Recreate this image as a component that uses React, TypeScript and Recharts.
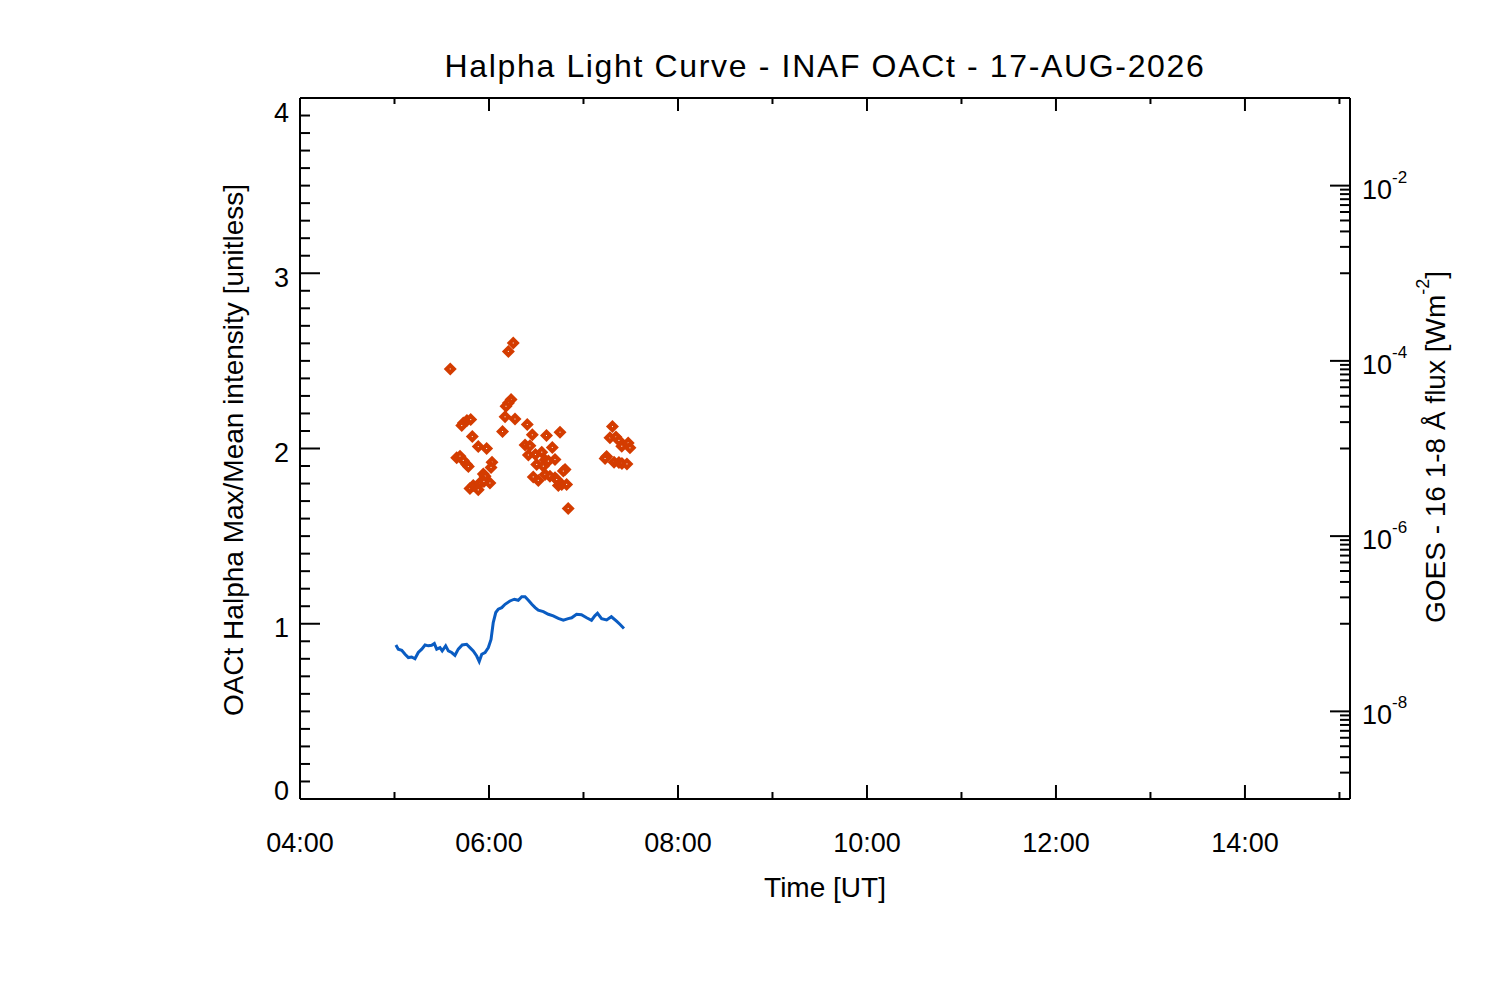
import React from 'react';
import { ComposedChart, Line, Scatter, XAxis, YAxis } from 'recharts';

const FONT = '"Liberation Sans", Arial, Helvetica, sans-serif';

// OACt Halpha max/mean curve, time in minutes after 00:00 UT
const curveTimes = [
  300.9, 302.4, 304.6, 306.7, 308.8, 310.9, 313.0, 315.1, 317.3, 319.4,
  321.5, 323.6, 325.3, 326.8, 328.9, 330.3, 332.5, 334.2, 336.3, 338.4,
  340.5, 343.0, 345.8, 347.9, 350.0, 352.2, 353.8, 355.4, 357.5, 359.6,
  361.3, 362.7, 364.3, 365.9, 368.1, 370.2, 373.3, 376.1, 378.6, 380.8,
  382.9, 385.0, 387.2, 389.3, 391.3, 394.5, 397.7, 400.8, 404.0, 407.2,
  410.3, 412.5, 415.6, 418.7, 422.0, 425.1, 427.2, 428.9, 431.5, 434.7,
  437.7, 441.0, 443.1, 445.7,
];
const curveValues = [
  0.879, 0.855, 0.849, 0.826, 0.807, 0.81, 0.8, 0.836, 0.855, 0.879,
  0.874, 0.877, 0.887, 0.855, 0.864, 0.845, 0.874, 0.845, 0.836, 0.82,
  0.855, 0.879, 0.883, 0.864, 0.845, 0.816, 0.785, 0.826, 0.836, 0.864,
  0.91, 1.007, 1.064, 1.083, 1.092, 1.111, 1.13, 1.14, 1.134, 1.154,
  1.154, 1.134, 1.111, 1.092, 1.077, 1.069, 1.054, 1.045, 1.031, 1.02,
  1.029, 1.034, 1.054, 1.052, 1.034, 1.02, 1.045, 1.06, 1.029, 1.022,
  1.04, 1.015, 0.997, 0.973,
];

// diamond points
const pointTimes = [
  335.4, 375.4, 372.3, 374.0, 372.3, 370.8, 370.2, 376.5, 368.6, 343.7,
  346.0, 348.4, 342.7, 349.4, 353.2, 358.5, 339.5, 341.6, 343.7, 345.8,
  346.9, 361.9, 361.3, 356.4, 357.5, 347.9, 350.0, 352.2, 354.3, 356.8,
  360.6, 353.2, 384.3, 387.5, 396.5, 405.1, 382.9, 386.0, 400.2, 385.0,
  389.5, 393.5, 401.9, 395.6, 390.3, 394.5, 397.7, 388.1, 391.3, 395.6,
  398.7, 401.9, 408.3, 407.2, 404.0, 406.2, 409.3, 403.0, 410.3, 438.4,
  436.8, 440.6, 442.5, 444.3, 448.4, 449.5, 434.7, 433.7, 439.4, 442.5,
  444.4, 447.6,
];
const pointValues = [
  2.454, 2.602, 2.554, 2.279, 2.26, 2.241, 2.181, 2.168, 2.097, 2.146,
  2.16, 2.165, 2.131, 2.068, 2.011, 2.0, 1.947, 1.956, 1.932, 1.909,
  1.897, 1.922, 1.892, 1.855, 1.842, 1.772, 1.789, 1.781, 1.805, 1.812,
  1.803, 1.764, 2.137, 2.078, 2.074, 2.093, 2.02, 2.015, 2.006, 1.963,
  1.966, 1.979, 1.937, 1.934, 1.909, 1.899, 1.928, 1.838, 1.818, 1.852,
  1.842, 1.833, 1.88, 1.871, 1.789, 1.795, 1.795, 1.823, 1.658, 2.125,
  2.061, 2.066, 2.046, 2.013, 2.032, 2.004, 1.954, 1.943, 1.922, 1.92,
  1.915, 1.912,
];

const hourTicks = [240, 300, 360, 420, 480, 540, 600, 660, 720, 780, 840, 900];
const leftTicks = Array.from({ length: 41 }, (_, i) => i / 10);
const goesMajor = [1e-8, 1e-6, 1e-4, 1e-2];
const goesTicks = [
  ...goesMajor.flatMap((m) => [1, 2, 3, 4, 5, 6, 7, 8, 9].map((k) => (k * m) / 10)),
  ...goesMajor,
  1e-1,
];

const curveData = curveTimes.map((t, i) => ({ t, v: curveValues[i] }));
const pointData = pointTimes.map((t, i) => ({ t, v: pointValues[i] }));

const TOP = 98;
const BOTTOM = 799;

const fmtHour = (m: number) => `${String(Math.round(m / 60)).padStart(2, '0')}:00`;

const BottomTick = (props: any) => {
  const { x, y, payload } = props;
  const h = Math.round(payload.value / 60);
  const major = h % 2 === 0;
  return (
    <g>
      <line x1={x} x2={x} y1={y} y2={y - (major ? 14 : 7)} stroke="#000" strokeWidth={2} />
      {major && h <= 14 && (
        <text x={x} y={y + 53} textAnchor="middle" fontSize={27} fontFamily={FONT} fill="#000">
          {fmtHour(payload.value)}
        </text>
      )}
    </g>
  );
};

const TopTick = (props: any) => {
  const { x, y, payload } = props;
  const h = Math.round(payload.value / 60);
  const major = h % 2 === 0;
  return <line x1={x} x2={x} y1={y} y2={y + (major ? 13 : 6)} stroke="#000" strokeWidth={2} />;
};

const LeftTick = (props: any) => {
  const { x, y, payload } = props;
  const v = payload.value;
  const major = Math.abs(v - Math.round(v)) < 1e-6;
  const ty = Math.min(Math.max(y + 13.5, TOP + 24), BOTTOM + 1);
  return (
    <g>
      <line x1={x} x2={x + (major ? 20 : 10)} y1={y} y2={y} stroke="#000" strokeWidth={2} />
      {major && (
        <text x={x - 11} y={ty} textAnchor="end" fontSize={27} fontFamily={FONT} fill="#000">
          {Math.round(v)}
        </text>
      )}
    </g>
  );
};

const RightTick = (props: any) => {
  const { x, y, payload } = props;
  const v = payload.value;
  const major = goesMajor.some((m) => Math.abs(v / m - 1) < 1e-6);
  const exp = Math.round(Math.log10(v));
  return (
    <g>
      <line x1={x} x2={x - (major ? 20 : 10)} y1={y} y2={y} stroke="#000" strokeWidth={2} />
      {major && (
        <text x={x + 12} y={y + 13} fontSize={27} fontFamily={FONT} fill="#000">
          10
          <tspan fontSize={17} dy={-16}>
            {exp}
          </tspan>
        </text>
      )}
    </g>
  );
};

const Diamond = (props: any) => {
  const { cx, cy } = props;
  if (cx == null || cy == null) return null;
  const r = 6.5;
  return (
    <g>
      <path d={`M${cx},${cy - r}L${cx + r},${cy}L${cx},${cy + r}L${cx - r},${cy}Z`} fill="#d43c00" />
      <rect x={cx - 0.5} y={cy - 0.5} width={1} height={1} fill="#fff" />
    </g>
  );
};

export default function App() {
  return (
    <div style={{ position: 'absolute', left: 0, top: 0, width: 1500, height: 1000, background: '#fff' }}>
      <ComposedChart
        width={1500}
        height={1000}
        margin={{ top: TOP - 1, right: 149, bottom: 1000 - BOTTOM - 1, left: 299 }}
        style={{ fontFamily: FONT }}
      >
        <XAxis
          xAxisId="bottom"
          dataKey="t"
          type="number"
          domain={[240, 906.7]}
          allowDataOverflow
          ticks={hourTicks}
          interval={0}
          tick={BottomTick}
          tickLine={false}
          tickSize={0}
          tickMargin={0}
          height={1}
          axisLine={{ stroke: '#000', strokeWidth: 2 }}
        />
        <XAxis
          xAxisId="top"
          orientation="top"
          dataKey="t"
          type="number"
          domain={[240, 906.7]}
          allowDataOverflow
          ticks={hourTicks}
          interval={0}
          tick={TopTick}
          tickLine={false}
          tickSize={0}
          tickMargin={0}
          height={1}
          axisLine={{ stroke: '#000', strokeWidth: 2 }}
        />
        <YAxis
          yAxisId="left"
          dataKey="v"
          type="number"
          domain={[0, 4]}
          allowDataOverflow
          ticks={leftTicks}
          interval={0}
          tick={LeftTick}
          tickLine={false}
          tickSize={0}
          tickMargin={0}
          width={1}
          axisLine={{ stroke: '#000', strokeWidth: 2 }}
        />
        <YAxis
          yAxisId="goes"
          orientation="right"
          type="number"
          scale="log"
          domain={[1e-9, 1e-1]}
          allowDataOverflow
          ticks={goesTicks}
          interval={0}
          tick={RightTick}
          tickLine={false}
          tickSize={0}
          tickMargin={0}
          width={1}
          axisLine={{ stroke: '#000', strokeWidth: 2 }}
        />
        <Line
          xAxisId="bottom"
          yAxisId="left"
          data={curveData}
          dataKey="v"
          type="linear"
          stroke="#0a5cc2"
          strokeWidth={3}
          dot={false}
          activeDot={false}
          isAnimationActive={false}
        />
        <Scatter
          xAxisId="bottom"
          yAxisId="left"
          data={pointData}
          dataKey="v"
          shape={Diamond}
          isAnimationActive={false}
        />
        <text x={825} y={77} textAnchor="middle" fontSize={32} letterSpacing={1.65} fontFamily={FONT} fill="#000">
          Halpha Light Curve - INAF OACt - 17-AUG-2026
        </text>
        <text x={825} y={897} textAnchor="middle" fontSize={28} fontFamily={FONT} fill="#000">
          Time [UT]
        </text>
        <text
          x={243}
          y={450}
          transform="rotate(-90 243 450)"
          textAnchor="middle"
          fontSize={28}
          fontFamily={FONT}
          fill="#000"
        >
          OACt Halpha Max/Mean intensity [unitless]
        </text>
        <text
          x={1445}
          y={447}
          transform="rotate(-90 1445 447)"
          textAnchor="middle"
          fontSize={28}
          fontFamily={FONT}
          fill="#000"
        >
          GOES - 16 1-8 Å flux [Wm
          <tspan fontSize={18} dy={-16}>
            -2
          </tspan>
          <tspan dy={16}>]</tspan>
        </text>
      </ComposedChart>
    </div>
  );
}
